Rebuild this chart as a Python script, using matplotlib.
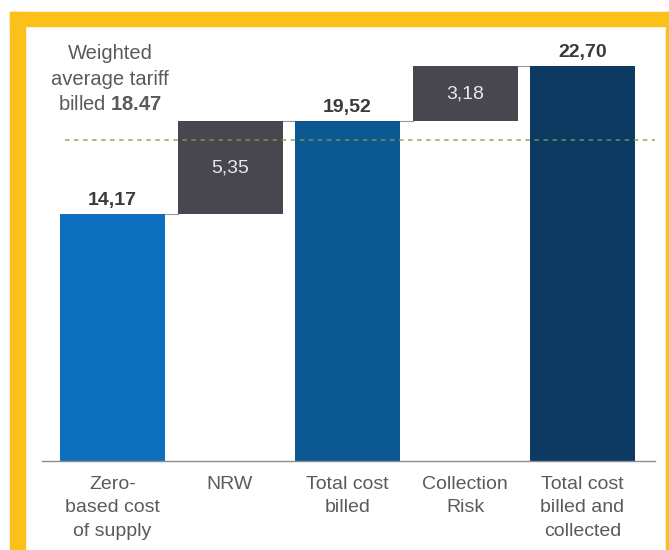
import matplotlib
matplotlib.use("Agg")
import matplotlib.pyplot as plt
from matplotlib.patches import Rectangle

plt.rcParams['font.family'] = ['Liberation Sans', 'DejaVu Sans']
plt.rcParams['mathtext.fontset'] = 'custom'
plt.rcParams['mathtext.rm'] = 'Liberation Sans'
plt.rcParams['mathtext.bf'] = 'Liberation Sans:bold'

# Waterfall data
categories = ["Zero-\nbased cost\nof supply", "NRW", "Total cost\nbilled",
              "Collection\nRisk", "Total cost\nbilled and\ncollected"]
values = [14.17, 5.35, 19.52, 3.18, 22.70]
kinds = ["total", "delta", "total", "delta", "total"]
value_labels = ["14,17", "5,35", "19,52", "3,18", "22,70"]
bar_colors = ["#0d6fbd", "#48464f", "#0b5892", "#48464f", "#0c3a62"]
tariff = 18.47

W, H = 669, 550
fig = plt.figure(figsize=(W / 100, H / 100), dpi=100)
fig.patch.set_facecolor("white")

# Gold frame
gold = "#fcc01a"
fig.patches.append(Rectangle((10 / W, 0), 15 / W, (H - 12) / H,
                             transform=fig.transFigure, color=gold, zorder=0))
fig.patches.append(Rectangle((10 / W, (H - 26) / H), (W - 10) / W, 14 / H,
                             transform=fig.transFigure, color=gold, zorder=0))
fig.patches.append(Rectangle((666 / W, 0), 3 / W, (H - 12) / H,
                             transform=fig.transFigure, color=gold, zorder=0))

# Axes placed in pixel terms
x0, x1 = 42, 655
ybase, ytop = 461, 30
ax = fig.add_axes([x0 / W, (H - ybase) / H, (x1 - x0) / W, (ybase - ytop) / H])
ax.set_facecolor("none")

spacing = 117.5
px_per_unit = 395 / 22.70
ax.set_xlim((x0 - 112.5) / spacing, (x1 - 112.5) / spacing)
ax.set_ylim(0, (ybase - ytop) / px_per_unit)


def y_of_px(py):
    """Data y for a pixel row measured from the top of the figure."""
    return (ybase - py) / px_per_unit


width = 105 / spacing
bottoms = []
running = 0.0
for v, k in zip(values, kinds):
    if k == "total":
        bottoms.append(0.0)
        running = v
    else:
        bottoms.append(running)
        running += v

xs = list(range(len(values)))
ax.bar(xs, values, width=width, bottom=bottoms, color=bar_colors, zorder=2)

# Connectors between consecutive bars
levels = [b + v for b, v in zip(bottoms, values)]
for i in range(len(values) - 1):
    ax.plot([xs[i] + width / 2, xs[i + 1] - width / 2], [levels[i], levels[i]],
            color="#9a9a9a", lw=0.8, zorder=1)

# Weighted average tariff reference line
ax.plot([(65 - 112.5) / spacing, ax.get_xlim()[1]], [tariff, tariff],
        color="#7f9f45", lw=1.3, ls=(0, (2.5, 2.5)), alpha=0.75, zorder=3)

# Value labels
for i, (b, v, k, lab) in enumerate(zip(bottoms, values, kinds, value_labels)):
    if k == "total":
        ax.text(xs[i], b + v + 9 / px_per_unit, lab, ha="center", va="baseline",
                fontsize=14, fontweight="bold", color="#3a3a3a", zorder=4)
    else:
        ax.text(xs[i], b + v * 0.5, lab, ha="center", va="center",
                fontsize=14, color="#e8e8ec", zorder=4)

tx = -0.02
ax.text(tx, y_of_px(59), "Weighted", ha="center", va="baseline",
        fontsize=14.5, color="#5a5a5a", clip_on=False)
ax.text(tx, y_of_px(85), "average tariff", ha="center", va="baseline",
        fontsize=14.5, color="#5a5a5a", clip_on=False)
ax.text(tx, y_of_px(110), r"billed $\mathbf{18.47}$", ha="center", va="baseline",
        fontsize=14.5, color="#5a5a5a", clip_on=False)

# Category axis
ax.set_xticks(xs)
ax.set_xticklabels(categories, fontsize=14, color="#5a5a5a", linespacing=1.5)
ax.tick_params(axis="x", length=0, pad=10.5)
ax.set_yticks([])
for s in ["top", "right", "left"]:
    ax.spines[s].set_visible(False)
ax.spines["bottom"].set_color("#8c8c8c")
ax.spines["bottom"].set_linewidth(1.0)

fig.savefig("out.png", dpi=100)
